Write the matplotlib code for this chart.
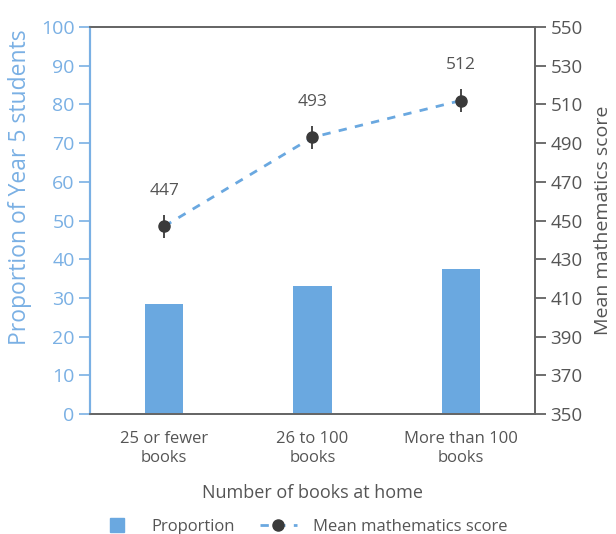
import matplotlib.pyplot as plt
import numpy as np
from matplotlib.lines import Line2D

plt.rcParams['font.family'] = ['Open Sans', 'DejaVu Sans']

# data
categories = ["25 or fewer\nbooks", "26 to 100\nbooks", "More than 100\nbooks"]
proportion = [28.4, 33.1, 37.5]
mean_score = [447, 493, 512]
score_err = [5.8, 5.8, 5.8]

blue = "#6aa8e0"
axis_blue = "#7ab0e4"
grey_text = "#555555"
grey_line = "#666666"

fig = plt.figure(figsize=(6.16, 5.34), dpi=100)
ax = fig.add_axes([0.146, 0.2247, 0.7225, 0.7247])
ax2 = ax.twinx()

x = np.arange(len(categories))
ax.bar(x, proportion, width=0.257, color=blue, zorder=2)
ax.set_xlim(-0.5, 2.5)
ax.set_ylim(0, 100)
ax.set_yticks(np.arange(0, 101, 10))
ax.set_xticks(x)
ax.set_xticklabels(categories, fontsize=12, color=grey_text, linespacing=1.25)
ax.tick_params(axis='x', length=0, pad=12)
ax.tick_params(axis='y', colors=axis_blue, labelsize=14, length=8, width=1.2, pad=3)
ax.set_ylabel("Proportion of Year 5 students", color=axis_blue, fontsize=16.5,
              va='center')
ax.yaxis.set_label_coords(-0.157, 0.585)
ax.set_xlabel("Number of books at home", color=grey_text, fontsize=13, labelpad=13)

ax2.errorbar(x, mean_score, yerr=score_err, fmt='o', color="#3a3a3a", ms=8,
             elinewidth=1.3, capsize=0, zorder=3)
ax2.plot(x, mean_score, ls=(0, (3, 3)), color=blue, lw=2, zorder=2)
for xi, v in zip(x, mean_score):
    ax2.text(xi, v + 14, str(v), ha='center', va='bottom', fontsize=12.5, color=grey_text)
ax2.set_ylim(350, 550)
ax2.set_yticks(np.arange(350, 551, 20))
ax2.tick_params(axis='y', colors=grey_text, labelsize=13.5, length=8, width=1.2, pad=3)
ax2.set_ylabel("Mean mathematics score", color=grey_text, fontsize=14, labelpad=8)

for a in (ax, ax2):
    a.spines['left'].set_color(axis_blue)
    a.spines['left'].set_linewidth(1.5)
    a.spines['right'].set_color(grey_line)
    a.spines['right'].set_linewidth(1.3)
    a.spines['top'].set_color(grey_line)
    a.spines['top'].set_linewidth(1.3)
    a.spines['bottom'].set_color(grey_line)
    a.spines['bottom'].set_linewidth(1.3)

handles = [
    Line2D([], [], marker='s', ls='none', color=blue, ms=10),
    Line2D([], [], marker='o', ls=(0, (3, 3)), color=blue, lw=2,
           markerfacecolor="#3a3a3a", markeredgecolor="#3a3a3a", ms=8),
]
leg = fig.legend(handles, ["Proportion", "Mean mathematics score"], loc='center',
                 bbox_to_anchor=(0.492, 0.014), ncol=2, frameon=False, fontsize=12,
                 handlelength=2.2, columnspacing=1.5, handletextpad=1.0)
for t in leg.get_texts():
    t.set_color(grey_text)

fig.savefig("out.png", dpi=100)
